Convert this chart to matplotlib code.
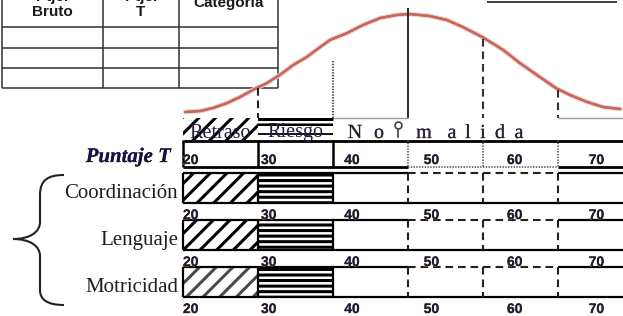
#-----------------------------------------------------------------------
#---- plot.py : Perfil de puntajes T (Coordinacion, Lenguaje, Motricidad)
#-----------------------------------------------------------------------

import matplotlib
matplotlib.use("Agg")
import matplotlib.pyplot as plt
import matplotlib.patheffects as pe
from matplotlib.patches import Rectangle, PathPatch
from matplotlib.path import Path


#---- Donnees
rows = ["Coordinación", "Lenguaje", "Motricidad"]
t_ticks = [20, 30, 40, 50, 60, 70]
bands = ["Retraso", "Riesgo"]
normal_word = "Normalida"
table_head = ["Bruto", "T", "Categoria"]
table_top = ["Ptje.", "Ptje.", ""]

#--- Courbe normale (puntaje T, hauteur en px)
curve_t = [20.3, 22.3, 24.0, 25.9, 27.6, 29.3, 31.2, 32.9, 34.7, 36.5,
           38.3, 39.6, 41.9, 44.0, 46.3, 48.5, 50.1, 52.9, 55.2, 57.3,
           59.9, 62.7, 64.9, 67.2, 69.7, 71.6, 73.9, 76.0, 78.3]
curve_y = [112, 111, 108, 103, 97, 90, 83, 75, 65, 57,
           47, 40, 33, 25, 18, 15, 14, 16, 20, 27,
           37, 50, 63, 75, 88, 95, 102, 107, 109]

#--- Lignes verticales sous la courbe
drop_t = [30, 40, 50, 60, 70]
drop_top = [88, 61, 8, 39, 90]


#---- Mise en page (px)
T0_PX = 183.0
PX_PER_T = 7.5
W, H = 623, 316
T_RIGHT = 20 + (W - T0_PX) / PX_PER_T

DASH = (0, (5.5, 3.5))
DOT = (0, (1.0, 1.0))
NAVY = "#1b1b3c"
SHADOW = [pe.withSimplePatchShadow(offset=(-0.4, -0.4), shadow_rgbFace="#f0a040", alpha=0.7), pe.Normal()]


def num_labels(ax, y):
    offs = [0.0, 0.4, 1.5, 2.1, 3.2, 4.1]
    for t, o in zip(t_ticks, offs):
        ax.text(t + o, y, str(t), ha="left", va="baseline", fontsize=10,
                fontweight="bold", family="Liberation Sans", color=NAVY,
                path_effects=SHADOW)


#-----------------------------------------------------------------------
#---- Main script
#-----------------------------------------------------------------------
def main():

    plt.rcParams["hatch.linewidth"] = 2.2
    plt.rcParams["lines.scale_dashes"] = False

    fig = plt.figure(figsize=(W / 100, H / 100), dpi=100)

    #--- axes de mise en page en px
    lay = fig.add_axes([0, 0, 1, 1])
    lay.set_xlim(0, W)
    lay.set_ylim(H, 0)
    lay.axis("off")

    #--- axes du graphique : x en puntaje T
    ax = fig.add_axes([0, 0, 1, 1])
    ax.set_xlim(20 - T0_PX / PX_PER_T, T_RIGHT)
    ax.set_ylim(H, 0)
    ax.axis("off")
    ax.patch.set_alpha(0)

    #---- Tableau en haut a gauche
    tcol = "#303030"
    lay.vlines([2, 103, 179, 278], 0, 88, color=tcol, lw=1.1)
    lay.hlines([27, 48, 68, 88], 2, 278, color=tcol, lw=1.1)
    for xc, head, top in zip([52, 141, 229], table_head, table_top):
        yh = 3 if head == "Categoria" else 12.5
        lay.text(xc, yh, head, ha="center", va="center", fontsize=11,
                 fontweight="bold", family="Liberation Sans", color="#1a1a1a")
        if top:
            lay.text(xc, -2.5, top, ha="center", va="center", fontsize=11,
                     fontweight="bold", family="Liberation Sans", color="#1a1a1a")
    lay.hlines(2, 487, 617, color="#222222", lw=1.2)

    #---- Courbe normale
    ax.plot(curve_t, curve_y, color="#c8675c", lw=1.7, solid_capstyle="round",
            solid_joinstyle="round",
            path_effects=[pe.withStroke(linewidth=3.4, foreground="#f2d2cc"), pe.Normal()])

    drop_ls = [DASH, DOT, "-", DASH, DASH]
    drop_col = ["#222222", "#555555", "#333333", "#333333", "#333333"]
    for t, yt, ls, c in zip(drop_t, drop_top, drop_ls, drop_col):
        ax.vlines(t, yt, 118, colors=c, linestyles=ls, lw=1.5)
    ax.hlines(118, 40, 50, colors="#9a9a9a", lw=1.0)
    ax.hlines(118, 70, T_RIGHT, colors="#9a9a9a", lw=1.0)

    #---- Legende : Retraso / Riesgo / Normalidad
    ax.add_patch(Rectangle((20, 118), 10, 22, facecolor="white", edgecolor="black",
                           hatch="//", lw=0))
    ax.add_patch(Rectangle((30, 118), 10, 8, facecolor="white", edgecolor="black",
                           hatch="---", lw=0))
    ax.hlines(118.5, 30, 40, colors="black", lw=2.0)
    ax.hlines(134, 30, 40, colors="black", lw=1.3)
    for t, name in zip([25, 35], bands):
        ax.text(t, 137.5, name, ha="center", va="baseline", fontsize=14.5,
                family="Liberation Serif", color="#202040")
    letter_px = [355, 379, 398, 424, 452, 468, 483, 500, 519]
    for xp, ch in zip(letter_px, normal_word):
        if ch == "r":
            lay.plot([xp, xp], [128, 137], color="#444444", lw=1.2)
            lay.plot(xp, 125, marker="o", ms=5, mfc="white", mec="#444444", mew=1.2)
            continue
        lay.text(xp, 138, ch, ha="center", va="baseline", fontsize=14.5,
                 family="Liberation Serif", color="#202040", path_effects=SHADOW)

    #---- Ligne Puntaje T
    ax.hlines(140.5, 20, T_RIGHT, colors="black", lw=2.0)
    ax.hlines(167, 20, 50, colors="black", lw=2.0)
    ax.hlines(167, 50, 70, colors="#555555", linestyles=DOT, lw=1.2)
    ax.hlines(167, 70, T_RIGHT, colors="black", lw=2.0)
    for t in t_ticks:
        if t < 50:
            ax.vlines(t, 140, 167, colors="black", lw=1.8)
        else:
            ax.vlines(t, 140, 167, colors="#555555", linestyles=DOT, lw=1.2)
    num_labels(ax, 164)
    lay.text(171, 162, "Puntaje T", ha="right", va="baseline", fontsize=15,
             fontweight="bold", fontstyle="italic", family="Liberation Serif",
             color="#14144a", path_effects=SHADOW)

    #---- Lignes des domaines
    row_tops = [173, 220, 267]
    hatch_col = ["black", "black", "#4a4a4a"]
    for i, (name, top) in enumerate(zip(rows, row_tops)):
        bot = top + 30
        ax.add_patch(Rectangle((20, top), 10, 30, facecolor="white",
                               edgecolor=hatch_col[i], hatch="//", lw=0))
        ax.add_patch(Rectangle((30, top), 10, 30, facecolor="white",
                               edgecolor="black", hatch="---", lw=0))
        ax.hlines(top, 20, 50, colors="black", lw=1.6)
        ax.hlines(top, 50, 70, colors="#222222", linestyles=DASH, lw=1.5)
        ax.hlines(top, 70, T_RIGHT, colors="black", lw=1.6)
        ax.hlines(bot, 20, T_RIGHT, colors="black", lw=1.6)
        for t in t_ticks:
            if t < 50:
                ax.vlines(t, top, bot, colors="black", lw=1.6)
            else:
                ax.vlines(t, top, bot, colors="#222222", linestyles=DASH, lw=1.5)
        num_labels(ax, top + 46)
        lay.text(178, top + 25, name, ha="right", va="baseline", fontsize=15,
                 family="Liberation Serif", color="#1e1e1e")

    #---- Accolade
    verts = [(64, 175), (48, 175), (40, 180), (40, 195),
             (40, 222),
             (40, 232), (30, 239), (13, 239),
             (30, 239), (40, 246), (40, 256),
             (40, 290),
             (40, 300), (48, 305), (64, 305)]
    codes = [Path.MOVETO, Path.CURVE4, Path.CURVE4, Path.CURVE4,
             Path.LINETO,
             Path.CURVE4, Path.CURVE4, Path.CURVE4,
             Path.CURVE4, Path.CURVE4, Path.CURVE4,
             Path.LINETO,
             Path.CURVE4, Path.CURVE4, Path.CURVE4]
    lay.add_patch(PathPatch(Path(verts, codes), facecolor="none",
                            edgecolor="#222222", lw=1.5))

    fig.savefig("out.png", dpi=100)


#-----------------------------------------------------------------------
if __name__ == "__main__":
    main()
